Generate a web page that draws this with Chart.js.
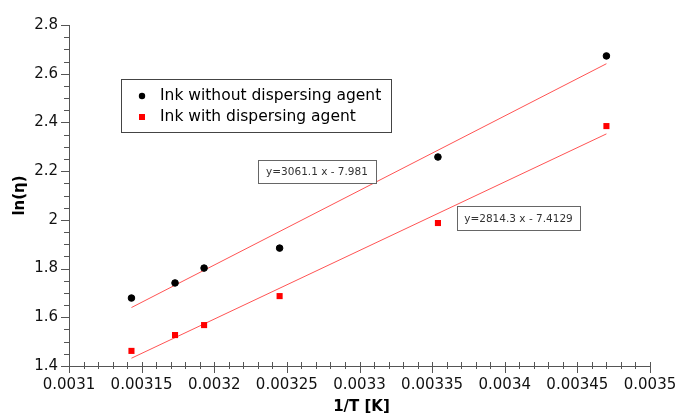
<!DOCTYPE html>
<html>
<head>
<meta charset="utf-8">
<script src="https://cdn.jsdelivr.net/npm/chart.js@4"></script>
<style>
html, body { margin: 0; padding: 0; background: #fff; }
#wrap { width: 678px; height: 415px; }
</style>
</head>
<body>
<div id="wrap"><canvas id="chart" width="678" height="415"></canvas></div>
<script>
// Data
const invT = [0.003143, 0.003173, 0.003193, 0.003245, 0.003354, 0.00347];
const lnEtaWithout = [1.679, 1.741, 1.802, 1.884, 2.258, 2.673];
const lnEtaWith = [1.462, 1.527, 1.568, 1.687, 1.987, 2.385];

// Fitted lines (end points)
const fitX = [0.003143, 0.00347];
const fitWithout = [1.640, 2.641];
const fitWith = [1.432, 2.353];
const fitLabels = ['y=3061.1 x - 7.981', 'y=2814.3 x - 7.4129'];

const seriesLabels = ['Ink without dispersing agent', 'Ink with dispersing agent'];

// Ticks
const xTicks = [0.0031, 0.00315, 0.0032, 0.00325, 0.0033, 0.00335, 0.0034, 0.00345, 0.0035];
const yTicks = [1.4, 1.6, 1.8, 2, 2.2, 2.4, 2.6, 2.8];

const FONT = '"DejaVu Sans", Verdana, sans-serif';
const AXIS = '#555';

function pts(xs, ys) {
  return xs.map((x, i) => ({ x: x, y: ys[i] }));
}

// Minor ticks, axis titles, legend and equation boxes
const overlay = {
  id: 'overlay',
  afterDraw(chart) {
    const ctx = chart.ctx;
    const x = chart.scales.x, y = chart.scales.y;
    ctx.save();

    // ticks
    ctx.strokeStyle = AXIS;
    ctx.lineWidth = 1;
    ctx.beginPath();
    const xMin = xTicks[0], xMax = xTicks[xTicks.length - 1];
    const nx = (xTicks.length - 1) * 5;
    for (let i = 0; i <= nx; i++) {
      const px = Math.round(x.getPixelForValue(xMin + i * (xMax - xMin) / nx)) + 0.5;
      const major = i % 5 === 0;
      ctx.moveTo(px, y.bottom - 4);
      ctx.lineTo(px, y.bottom + (major ? 7 : 3));
    }
    const yMin = yTicks[0], yMax = yTicks[yTicks.length - 1];
    const ny = (yTicks.length - 1) * 4;
    for (let i = 0; i <= ny; i++) {
      const py = Math.round(y.getPixelForValue(yMin + i * (yMax - yMin) / ny)) + 0.5;
      const major = i % 4 === 0;
      ctx.moveTo(x.left - (major ? 8 : 5), py);
      ctx.lineTo(x.left, py);
    }
    ctx.stroke();

    // axis titles
    ctx.fillStyle = '#000';
    ctx.font = 'bold 15px ' + FONT;
    ctx.textAlign = 'center';
    ctx.textBaseline = 'middle';
    ctx.fillText('1/T [K]', (x.left + x.right) / 2 + 2, 407);
    ctx.save();
    ctx.translate(20, (y.top + y.bottom) / 2);
    ctx.rotate(-Math.PI / 2);
    ctx.fillText('ln(η)', 0, 0);
    ctx.restore();

    // legend
    ctx.strokeStyle = '#444';
    ctx.strokeRect(121.5, 79.5, 270, 53);
    ctx.font = '15.5px ' + FONT;
    ctx.textAlign = 'left';
    ctx.fillStyle = '#000';
    ctx.beginPath();
    ctx.arc(142, 96, 3.2, 0, Math.PI * 2);
    ctx.fill();
    ctx.fillText(seriesLabels[0], 160, 96);
    ctx.fillStyle = '#ff0000';
    ctx.fillRect(139, 114, 6, 6);
    ctx.fillStyle = '#000';
    ctx.fillText(seriesLabels[1], 160, 117);

    // equation boxes
    const boxes = [[258, 160, 118, 23], [457, 206, 123, 24]];
    ctx.font = '10.5px ' + FONT;
    ctx.textAlign = 'center';
    boxes.forEach((b, i) => {
      ctx.fillStyle = '#fff';
      ctx.fillRect(b[0], b[1], b[2], b[3]);
      ctx.strokeStyle = '#666';
      ctx.strokeRect(b[0] + 0.5, b[1] + 0.5, b[2], b[3]);
      ctx.fillStyle = '#333';
      ctx.fillText(fitLabels[i], b[0] + b[2] / 2, b[1] + b[3] / 2 + 1);
    });

    ctx.restore();
  }
};

function noPad(scale) {
  scale.paddingLeft = 0;
  scale.paddingRight = 0;
  scale.paddingTop = 0;
  scale.paddingBottom = 0;
}

new Chart(document.getElementById('chart'), {
  type: 'scatter',
  data: {
    datasets: [
      {
        label: seriesLabels[0],
        data: pts(invT, lnEtaWithout),
        backgroundColor: '#000',
        borderColor: '#000',
        pointStyle: 'circle',
        pointRadius: 3.3,
        pointHoverRadius: 3.3
      },
      {
        label: seriesLabels[1],
        data: pts(invT, lnEtaWith),
        backgroundColor: '#ff0000',
        borderColor: '#ff0000',
        pointStyle: 'rect',
        pointRadius: 4.3,
        pointBorderWidth: 0,
        pointHoverRadius: 4.3
      },
      {
        label: 'fit1',
        data: pts(fitX, fitWithout),
        showLine: true,
        borderColor: 'rgba(255,40,40,0.8)',
        borderWidth: 1,
        pointRadius: 0
      },
      {
        label: 'fit2',
        data: pts(fitX, fitWith),
        showLine: true,
        borderColor: 'rgba(255,40,40,0.8)',
        borderWidth: 1,
        pointRadius: 0
      }
    ]
  },
  options: {
    responsive: false,
    animation: false,
    events: [],
    layout: { padding: { left: 0, top: 25, right: 28, bottom: 0 } },
    plugins: {
      legend: { display: false },
      tooltip: { enabled: false }
    },
    scales: {
      x: {
        type: 'linear',
        min: xTicks[0],
        max: xTicks[xTicks.length - 1],
        afterBuildTicks: s => { s.ticks = xTicks.map(v => ({ value: v })); },
        afterFit: s => { s.height = 49; noPad(s); },
        border: { display: true, color: AXIS, width: 1 },
        grid: { drawOnChartArea: false, drawTicks: false },
        ticks: {
          padding: 10,
          color: '#111',
          font: { family: FONT, size: 15 },
          maxRotation: 0,
          autoSkip: false,
          callback: v => String(+v.toFixed(5))
        }
      },
      y: {
        type: 'linear',
        min: yTicks[0],
        max: yTicks[yTicks.length - 1],
        afterBuildTicks: s => { s.ticks = yTicks.map(v => ({ value: v })); },
        afterFit: s => { s.width = 69; noPad(s); },
        border: { display: true, color: AXIS, width: 1 },
        grid: { drawOnChartArea: false, drawTicks: false },
        ticks: {
          padding: 11,
          color: '#111',
          font: { family: FONT, size: 15 },
          autoSkip: false,
          callback: v => String(+v.toFixed(1))
        }
      }
    }
  },
  plugins: [overlay]
});
</script>
</body>
</html>
